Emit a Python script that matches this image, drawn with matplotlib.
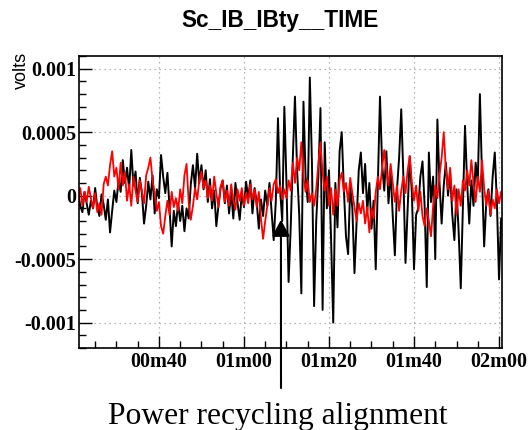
import numpy as np
import matplotlib
matplotlib.use("Agg")
import matplotlib.pyplot as plt
from matplotlib.ticker import MultipleLocator

# sampling of both traces (seconds)
t_start = 21.0
t_step = 0.5

# traces, in units of 1e-4 volts
black_1e4 = [
    0.2, -0.8, -1.3, 0.3, -0.6, -1.5, -0.4, -1.0, 0.6, -0.9,
    -1.6, 0.1, -0.7, -1.9, -0.3, -2.9, -1.2, 0.4, -0.5, 1.2,
    0.3, 2.8, 1.0, 2.2, 0.5, 3.6, 0.8, 1.9, -0.6, 1.4,
    0.2, -2.2, -0.8, 1.1, -0.3, 1.6, -1.4, 0.5, -0.2, 3.2,
    1.5, 0.2, 1.8, -1.0, -4.0, -1.2, -2.4, -0.6, -2.0, -0.8,
    -2.8, -1.0, -1.8, 0.9, 2.4, 0.6, 3.3, 1.0, 2.4, 0.5,
    2.0, -0.5, 1.3, -1.0, 0.4, -2.4, -0.8, 0.6, 1.2, -0.6,
    0.8, -1.4, 0.3, -1.8, 1.0, -0.6, -1.9, 0.2, -0.9, 1.1,
    -0.2, 1.2, -1.4, 0.6, -0.5, -2.6, -0.3, -1.6, 0.4, -0.8,
    1.0, -1.2, -3.5, -0.4, 6.1, 0.5, -2.0, 7.0, 1.0, -6.8,
    -2.5, 3.0, 7.8, 2.0, -1.5, -7.7, 7.4, 1.5, -0.5, 9.3,
    2.5, -8.7, -2.0, 1.5, 6.9, -9.0, 4.2, -1.0, 2.0, -3.5,
    -10.0, 1.0, -2.5, 3.5, 5.0, 0.5, -3.2, -4.6, 0.8, -1.0,
    -6.1, -2.0, 2.0, 3.4, 0.2, 2.5, -1.2, 1.0, -2.6, -0.4,
    -5.8, 1.0, 7.8, 2.5, 0.4, 3.5, -0.6, 2.0, -1.6, -4.7,
    0.5, 3.0, 6.8, 1.5, -5.3, -1.0, 3.1, 0.2, -5.8, -1.5,
    -1.0, 1.5, 2.7, -0.8, -7.2, 3.4, -0.5, 1.5, -5.0, 6.0,
    1.0, -2.2, 0.8, 2.6, 0.0, 1.8, -1.5, -3.5, 0.5, -2.8,
    -7.3, -1.0, 5.5, 1.0, -2.2, 1.2, -0.8, 2.6, 1.0, 8.0,
    1.5, -4.0, -0.5, 0.5, -1.6, 1.5, 3.4, -0.5, -6.6, -1.8,
]

red_1e4 = [
    -0.3, 0.6, -0.8, 0.3, -0.5, 0.7, -0.2, -1.0, 0.2, -1.3,
    -0.6, -1.5, 0.9, 1.5, 0.8, 2.4, 3.5, 1.5, 2.2, 0.5,
    2.6, 0.8, 1.8, -0.4, 0.9, -0.8, 1.5, 0.4, -0.5, 1.2,
    0.3, -0.6, 1.6, 2.2, 3.0, 1.2, 0.2, -1.2, -0.5, -2.4,
    -3.0, -1.6, -0.4, -1.5, 0.3, -0.9, -0.2, -1.2, 0.5, -0.6,
    1.6, 2.5, -0.5, -1.9, -0.8, 0.6, -0.3, 1.2, 1.9, 0.6,
    1.2, -0.2, 0.8, -0.4, 1.5, 0.2, -0.9, 0.7, 1.2, -0.5,
    0.4, -0.8, 0.9, -0.3, -1.1, 0.5, -0.4, 0.6, -0.8, 0.2,
    -0.6, 0.9, -0.3, 0.5, -0.9, 0.3, -1.8, -3.4, -2.0, -0.8,
    0.6, -0.4, 0.9, 1.3, 0.2, 0.8, -0.3, 0.5, -0.2, 1.2,
    0.4, 2.6, 1.0, 3.0, 2.0, 4.2, 1.5, 0.3, 1.2, -0.5,
    0.2, -0.8, 0.5, 2.5, 4.2, 1.8, 0.4, 1.5, -0.8, 0.6,
    -1.5, 0.5, -0.8, 1.2, 1.8, 0.3, 1.0, -0.5, 1.4, 0.2,
    -0.9, -2.0, -0.6, -1.4, -0.4, -2.2, -0.9, -2.9, -1.0, -1.8,
    0.3, 1.5, 0.5, 2.2, 3.6, 2.0, 0.8, 2.5, 1.0, -0.5,
    0.8, -1.2, 0.4, 1.5, 0.2, 2.0, 3.1, 1.0, -0.4, 0.8,
    -1.2, 0.3, -1.6, -2.4, -1.0, -2.0, -3.2, -0.8, 0.8, -0.2,
    1.6, 3.0, 5.0, 2.0, 0.5, 2.2, -0.4, 0.8, -1.5, 0.5,
    -0.8, 1.2, 0.4, 2.0, 0.8, 2.8, 1.0, -0.5, 1.5, 0.3,
    2.8, 0.6, -0.8, 0.4, -1.5, -0.3, -1.0, 0.5, -0.6, 0.3,
]

x_ticks = [40, 60, 80, 100, 120]
x_labels = ["00m40", "01m00", "01m20", "01m40", "02m00"]
y_ticks = [-0.001, -0.0005, 0, 0.0005, 0.001]
y_labels = ["-0.001", "-0.0005", "0", "0.0005", "0.001"]

black = np.array(black_1e4) * 1e-4
red = np.array(red_1e4) * 1e-4
t = t_start + t_step * np.arange(len(black))

W, H = 528, 430
fig = plt.figure(figsize=(W / 100, H / 100), dpi=100)
ax = fig.add_axes([79 / W, 1 - 348 / H, (502 - 79) / W, (348 - 56) / H])

ax.plot(t, black, color="black", lw=1.4)
ax.plot(t, red, color="red", lw=1.3)

ax.set_xlim(21.2, 120.7)
ax.set_ylim(-0.0012, 0.0011)

serif_bold = dict(family="Liberation Serif", weight="bold", size=14.5)
ax.set_xticks(x_ticks)
ax.set_xticklabels(x_labels, fontdict=serif_bold)
ax.set_yticks(y_ticks)
ax.set_yticklabels(y_labels, fontdict=serif_bold)
ax.xaxis.set_minor_locator(MultipleLocator(5))
ax.yaxis.set_minor_locator(MultipleLocator(0.0001))
ax.tick_params(which="both", direction="in", top=False, right=False, width=1.0)
ax.tick_params(axis="y", which="major", length=9, pad=2)
ax.tick_params(axis="x", which="major", length=9, pad=3)
ax.tick_params(which="minor", length=5)
ax.grid(True, which="major", color="#a0a0a0", linestyle=(0, (1, 3)), lw=0.9)
for s in ax.spines.values():
    s.set_linewidth(1.2)

fig.text(280 / W, 1 - 21 / H, "Sc_IB_IBty__TIME", ha="center", va="center",
         family="Liberation Sans", weight="bold", size=16.3)
fig.text(21 / W, 1 - 52 / H, "volts", ha="center", va="top", rotation=90,
         family="Liberation Sans", size=13)

# arrow marking the alignment moment
ax.annotate("", xy=(68.7, -0.00019), xycoords="data",
            xytext=(281, H - 388), textcoords="figure pixels",
            annotation_clip=False,
            arrowprops=dict(arrowstyle="-|>,head_width=0.27,head_length=0.5",
                            mutation_scale=20, color="black", lw=1.5,
                            shrinkA=0, shrinkB=0))
fig.text(278 / W, 6 / H, "Power recycling alignment", ha="center", va="baseline",
         family="Liberation Serif", size=22.7)

fig.savefig("out.png", dpi=100)
